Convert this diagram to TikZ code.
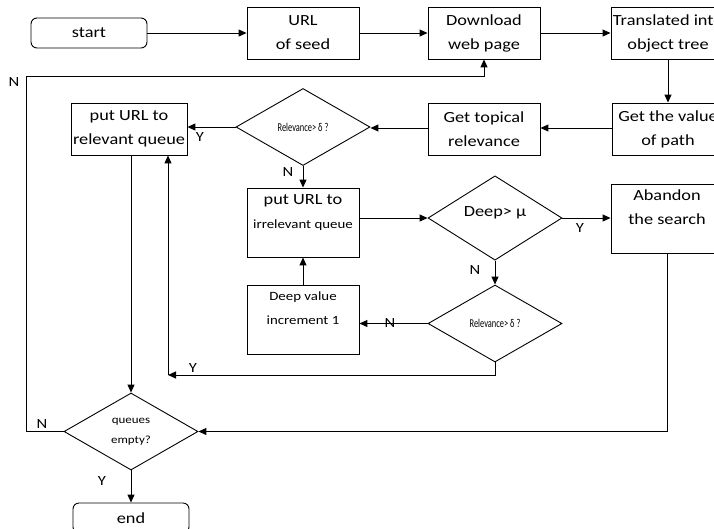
\documentclass[tikz,border=0pt]{standalone}
\usepackage{fontspec}
\setmainfont{Carlito}[FakeStretch=1.18]
\newfontfamily\narrowf{Carlito}[FakeStretch=0.7]
\usepackage{tikz}
\usetikzlibrary{arrows.meta,positioning,shapes.geometric}
\newcommand\mainsz{\fontsize{15.5}{24}\selectfont}
\newcommand\smsz{\fontsize{12.6}{25}\selectfont}
\tikzset{
  ar/.style={-{Triangle[length=8pt,width=7pt]},line width=1pt},
  box/.style={draw,line width=0.9pt,align=center,minimum width=112pt,minimum height=52pt,inner sep=2pt},
  tall/.style={box,minimum height=69pt,text depth=22pt},
  term/.style={box,rounded corners=6pt,minimum width=116pt,minimum height=30pt},
  dec/.style={diamond,draw,line width=0.9pt,align=center,inner sep=0pt,minimum width=134pt,minimum height=77pt},
  lb/.style={font=\fontsize{14}{14}\selectfont,inner sep=0pt}
}

\begin{document}
\begin{tikzpicture}[x=1pt,y=-1pt,font=\mainsz]
\path[use as bounding box,clip] (0,0) rectangle (714,528);
% top row
\node[term] (start) at (89,33) {start};
\node[box] (seed) at (303,33) {URL\\of seed};
\node[box] (down) at (484,33) {Download\\web page};
\node[box] (tree) at (668,33) {Translated into\\object tree};
% second row
\node[box] (path) at (668,129) {Get the value\\of path};
\node[box] (topic) at (484,129) {Get topical\\relevance};
\node[dec] (rel1) at (303,127) {\narrowf\fontsize{12}{12}\selectfont Relevance> δ ?};
\node[box,minimum width=111pt] (relq) at (129,129) {put URL to\\relevant queue};
% middle
\node[tall] (irrq) at (303,222.5) {put URL to\\{\smsz irrelevant queue}};
\node[dec,text depth=12pt] (deep) at (495,218) {Deep> μ};
\node[tall] (aband) at (667,218.5) {Abandon\\the search};
\node[tall] (incr) at (303,319.5) {\smsz Deep value\\\smsz increment 1};
\node[dec] (rel2) at (495,323.5) {\narrowf\fontsize{12}{12}\selectfont Relevance> δ ?};
% bottom
\node[dec,font=\fontsize{11}{20}\selectfont] (empt) at (131,431.5) {queues\\empty?};
\node[term] (endn) at (131,518) {end};
\coordinate (nloop) at (26,76);
\coordinate (ycorn) at (168,375);

\draw[ar] (start) -- (seed);
\draw[ar] (seed) -- (down);
\draw[ar] (down) -- (tree);
\draw[ar] (tree) -- (path);
\draw[ar] (path.west |- 0,128) -- (topic.east |- 0,128);
\draw[ar] (topic.west |- 0,128) -- (rel1.east |- 0,128);
\draw[ar] (rel1.west) -- (rel1.west -| relq.east);
\draw[ar] (rel1) -- (irrq);
\draw[ar] (deep.west -| irrq.east) -- (deep.west);
\draw[ar] (deep.east) -- (deep.east -| aband.west);
\draw[ar] (deep) -- (rel2);
\draw[ar] (rel2.west) -- (rel2.west -| incr.east);
\draw[ar] (incr) -- (irrq);
\draw[ar] (rel2.south) |- (ycorn);
\draw[ar] (ycorn) -- (ycorn |- relq.south);
\draw[ar] (relq.south -| empt.north) -- (empt.north);
\draw[ar] (aband.south) |- (empt.east);
\draw[ar] (empt.west) -| (nloop) -| (down.south);
\draw[ar] (empt) -- (endn);

% branch labels
\node[lb] at (200,137) {Y};
\node[lb] at (288,172) {N};
\node[lb] at (580,228) {Y};
\node[lb] at (475,270) {N};
\node[lb] at (390,323) {N};
\node[lb] at (193,368) {Y};
\node[lb] at (42,424) {N};
\node[lb] at (14,82) {N};
\node[lb] at (102,481) {Y};
\end{tikzpicture}
\end{document}
